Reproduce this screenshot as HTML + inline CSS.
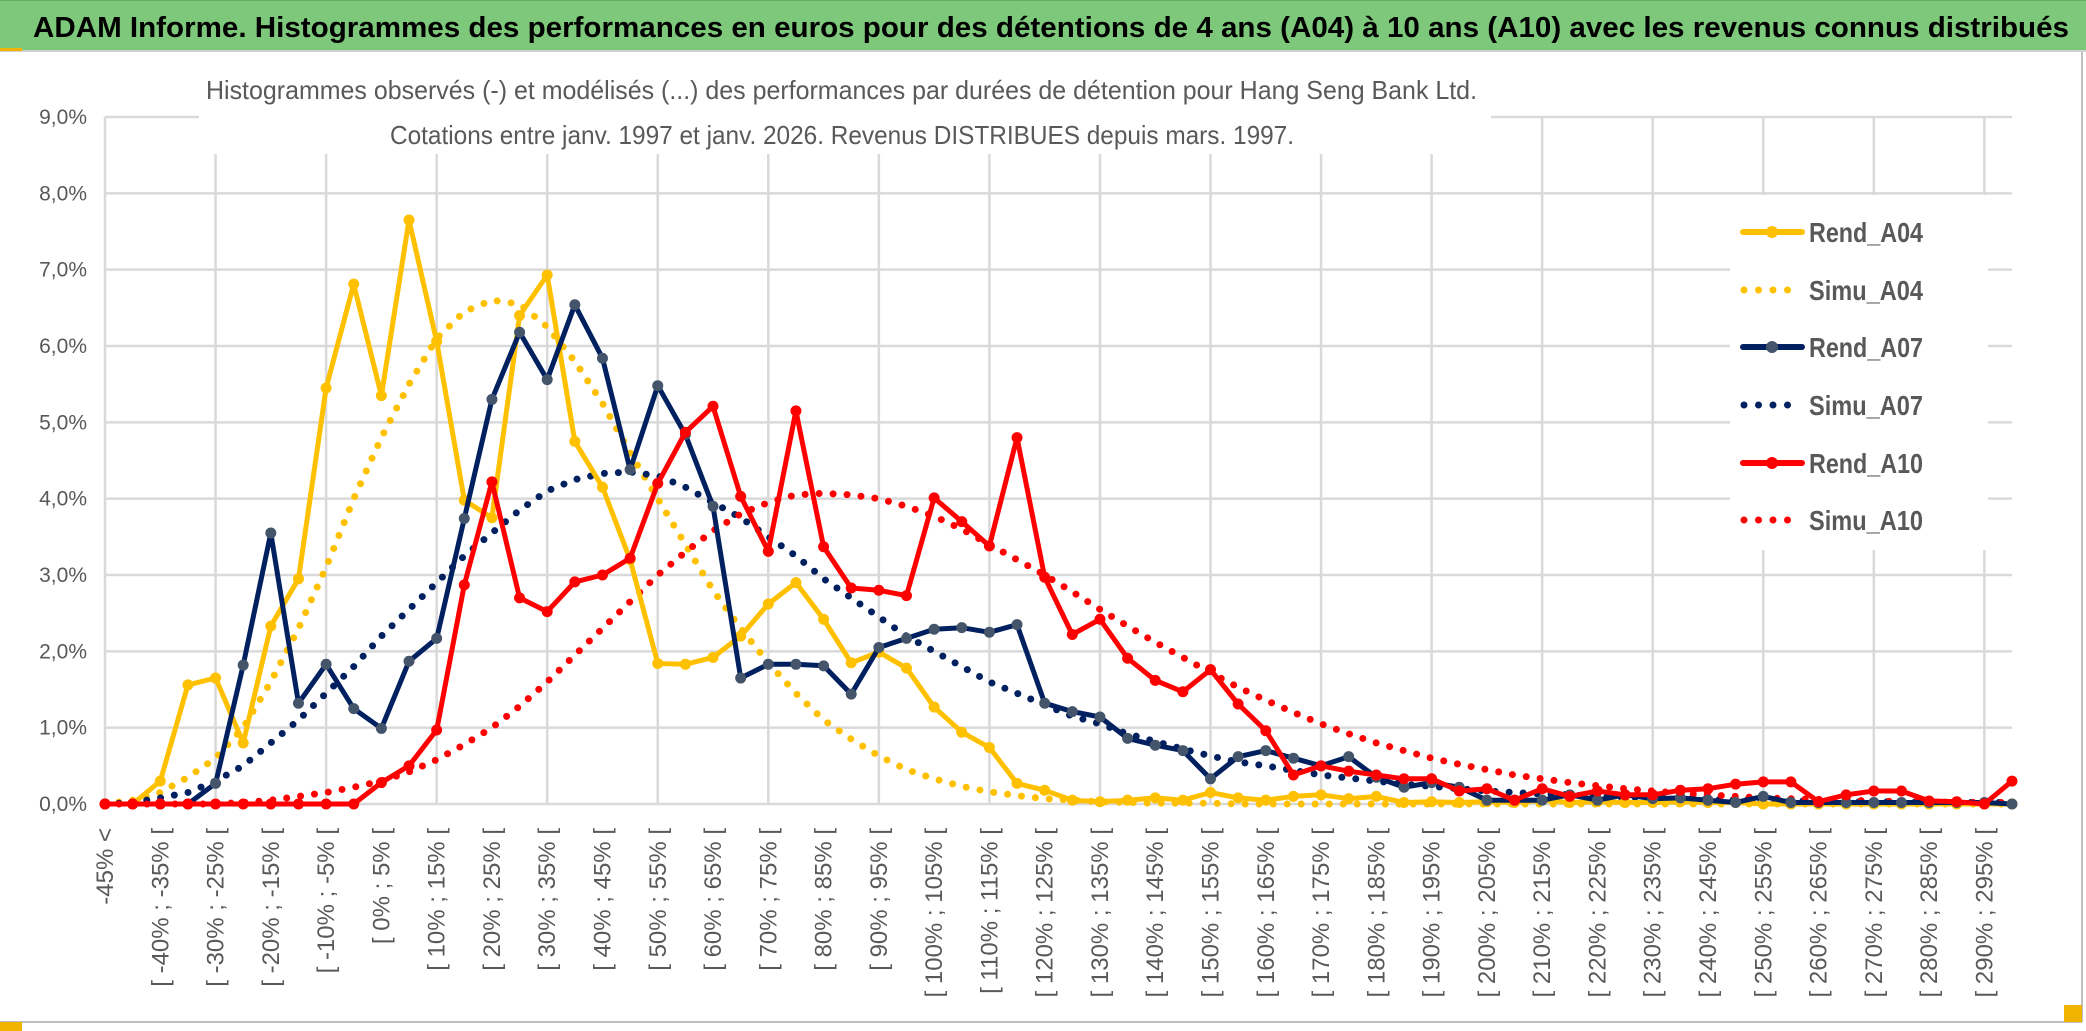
<!DOCTYPE html>
<html><head><meta charset="utf-8">
<style>
html,body{margin:0;padding:0;background:#fff;}
svg{display:block;font-family:"Liberation Sans",sans-serif;}
</style></head>
<body>
<svg id="chart" width="2086" height="1031" viewBox="0 0 2086 1031" xmlns="http://www.w3.org/2000/svg">
  <rect x="0" y="0" width="2086" height="1031" fill="#fff"/>
  <rect x="0" y="0" width="2086" height="50" fill="#7dc87a"/>
  <line x1="0" y1="0.5" x2="2086" y2="0.5" stroke="#6aa866" stroke-width="1"/>
  <line x1="0" y1="51" x2="2086" y2="51" stroke="#d0d0d0" stroke-width="2"/>
  <rect x="0" y="48" width="22" height="3" fill="#f0b400"/>
  <text x="33" y="37" font-size="29" font-weight="bold" fill="#000" textLength="2036" lengthAdjust="spacingAndGlyphs">ADAM Informe. Histogrammes des performances en euros pour des détentions de 4 ans (A04) à 10 ans (A10) avec les revenus connus distribués</text>
  <line x1="2082" y1="52" x2="2082" y2="1022" stroke="#bfbfbf" stroke-width="2"/>
  <line x1="0" y1="1022" x2="2082" y2="1022" stroke="#bfbfbf" stroke-width="2"/>
  <rect x="2064" y="1005" width="18" height="17" fill="#f0b400"/>
  <rect x="0" y="1022" width="22" height="9" fill="#f0b400"/>
  <g id="grid"></g>
  <rect x="199" y="70" width="1292" height="84" fill="#fff"/>
  <text x="206" y="99" font-size="26" fill="#595959" textLength="1271" lengthAdjust="spacingAndGlyphs">Histogrammes observés (-) et modélisés (...) des performances par durées de détention pour Hang Seng Bank Ltd.</text>
  <text x="390" y="144" font-size="26" fill="#595959" textLength="904" lengthAdjust="spacingAndGlyphs">Cotations entre janv. 1997 et janv. 2026. Revenus DISTRIBUES depuis mars. 1997.</text>
  <g id="yaxis"></g>
  <g id="xaxis"></g>
  <g id="series"></g>
  <g id="legend"></g>
</svg>
<script>
const ySteps = [0,1,2,3,4,5,6,7,8,9];
const yTickLabels = ["0,0%","1,0%","2,0%","3,0%","4,0%","5,0%","6,0%","7,0%","8,0%","9,0%"];
const categories = ["-45% <"];
for (let lo = -45; lo < 300; lo += 5) { categories.push("[ " + lo + "% ; " + (lo + 5) + "% ["); }
categories.length = 70;
const rendA04 = [0,0,0.3,1.56,1.65,0.8,2.33,2.95,5.45,6.81,5.35,7.65,6.06,3.98,3.75,6.4,6.93,4.75,4.15,3.2,1.84,1.83,1.92,2.2,2.62,2.9,2.42,1.85,1.99,1.78,1.27,0.94,0.74,0.27,0.18,0.05,0.03,0.05,0.08,0.05,0.15,0.08,0.05,0.1,0.12,0.07,0.1,0.02,0.03,0.02,0.03,0.02,0.05,0.02,0.03,0.02,0.02,0.03,0.02,0.02,0,0,0,0,0,0,0,0,0,0];
const simuA04 = [0,0.05,0.15,0.35,0.6,1.0,1.6,2.3,3.1,4.0,4.8,5.5,6.1,6.45,6.6,6.55,6.25,5.8,5.25,4.6,4.0,3.4,2.8,2.3,1.85,1.45,1.1,0.85,0.63,0.45,0.33,0.23,0.16,0.11,0.07,0.05,0.03,0.02,0.01,0.01,0.01,0,0,0,0,0,0,0,0,0,0,0,0,0,0,0,0,0,0,0,0,0,0,0,0,0,0,0,0,0];
const rendA07 = [0,0,0,0,0.27,1.82,3.55,1.32,1.83,1.25,0.99,1.87,2.17,3.74,5.30,6.18,5.56,6.54,5.84,4.38,5.48,4.84,3.90,1.65,1.83,1.83,1.81,1.44,2.05,2.17,2.29,2.31,2.25,2.35,1.32,1.21,1.14,0.86,0.77,0.70,0.33,0.62,0.7,0.6,0.5,0.62,0.35,0.22,0.28,0.22,0.05,0.05,0.05,0.12,0.05,0.12,0.07,0.08,0.05,0.02,0.1,0.02,0.02,0.02,0.02,0.02,0.02,0.02,0.02,0];
const simuA07 = [0,0.02,0.08,0.15,0.3,0.5,0.8,1.1,1.45,1.8,2.2,2.55,2.9,3.25,3.55,3.85,4.1,4.25,4.33,4.35,4.3,4.15,3.95,3.75,3.5,3.25,2.95,2.7,2.45,2.2,2.0,1.8,1.6,1.45,1.3,1.15,1.05,0.92,0.82,0.72,0.63,0.55,0.5,0.44,0.38,0.34,0.3,0.26,0.23,0.2,0.17,0.15,0.13,0.12,0.1,0.09,0.08,0.07,0.06,0.05,0.05,0.04,0.04,0.03,0.03,0.03,0.02,0.02,0.02,0.02];
const rendA10 = [0,0,0,0,0,0,0,0,0,0,0.28,0.5,0.97,2.87,4.22,2.70,2.52,2.91,3.0,3.22,4.20,4.87,5.21,4.03,3.31,5.15,3.37,2.83,2.8,2.73,4.01,3.7,3.38,4.8,2.97,2.22,2.42,1.91,1.62,1.47,1.76,1.31,0.96,0.38,0.5,0.43,0.38,0.33,0.33,0.17,0.2,0.05,0.2,0.1,0.17,0.12,0.12,0.18,0.2,0.26,0.29,0.29,0.03,0.12,0.17,0.17,0.04,0.03,0,0.3];
const simuA10 = [0,0,0,0,0,0.02,0.05,0.1,0.15,0.22,0.3,0.42,0.58,0.78,1.0,1.28,1.6,1.95,2.3,2.65,3.0,3.3,3.58,3.8,3.95,4.05,4.07,4.05,4.0,3.9,3.77,3.6,3.4,3.2,3.0,2.78,2.55,2.33,2.12,1.92,1.72,1.53,1.36,1.2,1.05,0.92,0.8,0.7,0.6,0.52,0.45,0.38,0.33,0.28,0.24,0.2,0.17,0.14,0.12,0.1,0.08,0.07,0.06,0.05,0.04,0.03,0.03,0.02,0.02,0.02];
const seriesNames = ["Rend_A04","Simu_A04","Rend_A07","Simu_A07","Rend_A10","Simu_A10"];

const NS = "http://www.w3.org/2000/svg";
const X0 = 105, X1 = 2012, Y0 = 804, Y9 = 117;
function xPos(i){ return X0 + i * (X1 - X0) / 69; }
function yPos(v){ return Y0 - v * (Y0 - Y9) / 9; }
function mk(tag, attrs, parent){ const e = document.createElementNS(NS, tag); for (const k in attrs) e.setAttribute(k, attrs[k]); parent.appendChild(e); return e; }

const grid = document.getElementById("grid");
ySteps.forEach(function(v){
  const l = mk("line", {x1: X0, x2: X1, y1: yPos(v), y2: yPos(v), stroke: "#d9d9d9", "stroke-width": 2.5}, grid);
  
  
});
for (let i = 0; i < categories.length; i += 4) {
  const l = mk("line", {x1: xPos(i), x2: xPos(i), y1: Y9, y2: Y0, stroke: "#d9d9d9", "stroke-width": 2.5}, grid);
  
  
}
const yaxis = document.getElementById("yaxis");
ySteps.forEach(function(v, k){
  const t = mk("text", {x: 87, y: yPos(v) + 7, "text-anchor": "end", "font-size": 21, fill: "#595959"}, yaxis);
  t.textContent = yTickLabels[k];
  
  
});
const xaxis = document.getElementById("xaxis");
categories.forEach(function(c, i){
  if (i % 2 !== 0) return;
  const x = xPos(i) + 8, y = 828;
  const t = mk("text", {x: x, y: y, transform: "rotate(-90 " + x + " " + y + ")", "text-anchor": "end", "font-size": 24, fill: "#595959"}, xaxis);
  t.textContent = c;
  
  
});

const sg = document.getElementById("series");
function pts(arr){ return arr.map(function(v, i){ return xPos(i).toFixed(1) + "," + yPos(v).toFixed(1); }).join(" "); }
function dotted(arr, color, name){
  const p = mk("polyline", {points: pts(arr), fill: "none", stroke: color, "stroke-width": 7, "stroke-linecap": "round", "stroke-dasharray": "0 14"}, sg);
  
  
}
function solid(arr, color, mcolor, name){
  const p = mk("polyline", {points: pts(arr), fill: "none", stroke: color, "stroke-width": 5, "stroke-linejoin": "round"}, sg);
  
  
  arr.forEach(function(v, i){
    const c = mk("circle", {cx: xPos(i), cy: yPos(v), r: 5.5, fill: mcolor}, sg);
    
    
  });
}
dotted(simuA04, "#ffc000", "simu-a04-line");
dotted(simuA07, "#002060", "simu-a07-line");
dotted(simuA10, "#ff0000", "simu-a10-line");
solid(rendA04, "#ffc000", "#ffc000", "rend-a04-line");
solid(rendA07, "#002060", "#44546a", "rend-a07-line");
solid(rendA10, "#ff0000", "#ff0000", "rend-a10-line");

const lg = document.getElementById("legend");
const lbg = mk("rect", {x: 1730, y: 195, width: 258, height: 355, fill: "#fff"}, lg);


const legY = [232, 290, 347, 405, 463, 520];
const legColors = ["#ffc000","#ffc000","#002060","#002060","#ff0000","#ff0000"];
const legMarker = ["#ffc000","","#44546a","","#ff0000",""];
seriesNames.forEach(function(n, k){
  const y = legY[k];
  if (k % 2 === 0) {
    const l = mk("line", {x1: 1743, x2: 1802, y1: y, y2: y, stroke: legColors[k], "stroke-width": 6, "stroke-linecap": "round"}, lg);
    
    
    const c = mk("circle", {cx: 1772, cy: y, r: 6, fill: legMarker[k]}, lg);
    
    
  } else {
    const l = mk("line", {x1: 1744, x2: 1800, y1: y, y2: y, stroke: legColors[k], "stroke-width": 7, "stroke-linecap": "round", "stroke-dasharray": "0 14.5"}, lg);
    
    
  }
  const t = mk("text", {x: 1809, y: y + 10, "font-size": 28, "font-weight": "bold", fill: "#595959", textLength: 114, lengthAdjust: "spacingAndGlyphs"}, lg);
  t.textContent = n;
  
  
});
</script>
</body></html>
